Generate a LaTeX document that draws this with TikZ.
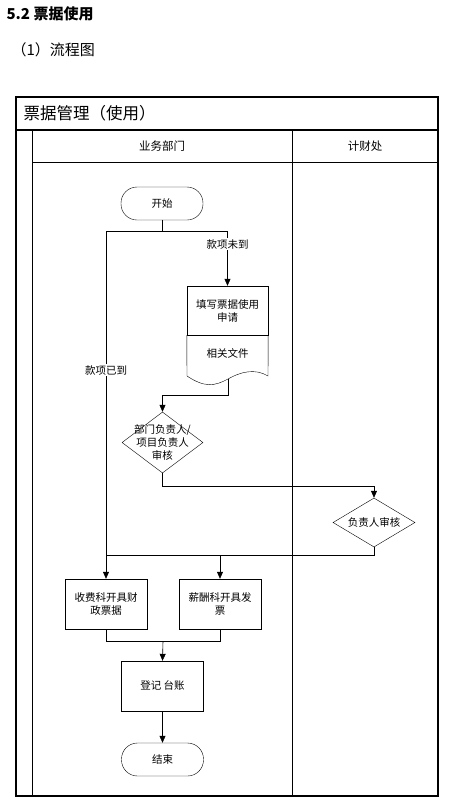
\documentclass[tikz,border=0pt]{standalone}
\usepackage{fontspec}
\usepackage{tikz}
\usetikzlibrary{positioning,arrows.meta,shapes.geometric}
\newfontfamily\cjk{Noto Sans CJK SC}

\begin{document}
\begin{tikzpicture}[
  x=1pt, y=-1pt,
  font=\cjk\fontsize{10.5}{13}\selectfont,
  box/.style={draw, align=center, inner sep=2pt, minimum width=82pt, minimum height=50pt},
  term/.style={draw, rounded corners=16pt, minimum width=82pt, minimum height=33pt},
  dia/.style={draw, diamond, inner sep=0pt},
  txt/.style={align=center, inner sep=0pt},
  lab/.style={fill=white, inner sep=1.5pt},
  lane/.style={line width=1.1pt},
  arr/.style={-{Triangle[length=7pt, width=6pt]}, semithick}
]
\useasboundingbox (0,0) rectangle (455,807);

% heading
\node[anchor=west, font=\cjk\bfseries\fontsize{15}{18}\selectfont] (sec) at (3,14) {5.2 票据使用};
\node[anchor=west, font=\cjk\fontsize{15}{18}\selectfont] (sub) at (8,50) {（1）流程图};

% pool and lanes
\draw[lane] (16,97) rectangle (438,796);
\draw[lane] (16,130) -- (438,130);
\draw[semithick] (32,130) -- (32,796);
\draw[semithick] (32,162) -- (438,162);
\draw[semithick] (292,130) -- (292,796);
\node[anchor=west, font=\cjk\fontsize{16.5}{20}\selectfont] (pool) at (20,113) {票据管理（使用）};
\node[font=\cjk\fontsize{11.5}{14}\selectfont] (dept) at (162,146) {业务部门};
\node[font=\cjk\fontsize{11.5}{14}\selectfont] (fin) at (365,146) {计财处};

% flow
\node[term] (start) at (162,203.5) {开始};
\coordinate (split) at (162,231);

\node[box, minimum width=81pt, minimum height=49pt] (apply) at (227.5,310.5) {填写票据使用\\申请};
\node[txt] (files) at (227.5,353) {相关文件};
\draw (apply.south west) -- (187,376) .. controls (205,388) and (215,386) .. (228,379)
  .. controls (240,372) and (255,368) .. (268,376) -- (apply.south east);
\coordinate (docend) at (228,379);

\node[dia, minimum width=81pt, minimum height=61pt] (check1) at (162.5,442.5) {};
\node[txt] (check1t) at (check1) {部门负责人/\\项目负责人\\审核};

\node[dia, minimum width=82pt, minimum height=49pt] (check2) at (374,522.5) {};
\node[txt] (check2t) at (check2) {负责人审核};
\coordinate (join) at (374,555);

\node[box] (fee) at (106,604) {收费科开具财\\政票据};
\node[box] (pay) at (220,604) {薪酬科开具发\\票};
\coordinate (merge) at (163,641);

\node[box] (ledger) at (162.5,686) {登记 台账};
\node[term] (stop) at (162.5,759.5) {结束};

% connectors
\draw[semithick] (start.south) -- (split);
\draw[arr] (split) -| node[lab, pos=0.7] {款项已到} (fee.north);
\draw[arr] (split) -| node[lab, pos=0.62] {款项未到} (apply.north);
\draw[arr] (docend) -- ++(0,16) -| (check1.north);
\draw[arr] (check1.south) -- ++(0,13) -| (check2.north);
\draw[semithick] (check2.south) -- (join) -- (join -| fee.north);
\draw[arr] (join -| pay.north) -- (pay.north);
\draw[semithick] (fee.south) -- ++(0,12) -| (pay.south);
\draw[arr] (merge) -- (ledger.north);
\draw[arr] (ledger.south) -- (stop.north);
\end{tikzpicture}
\end{document}
